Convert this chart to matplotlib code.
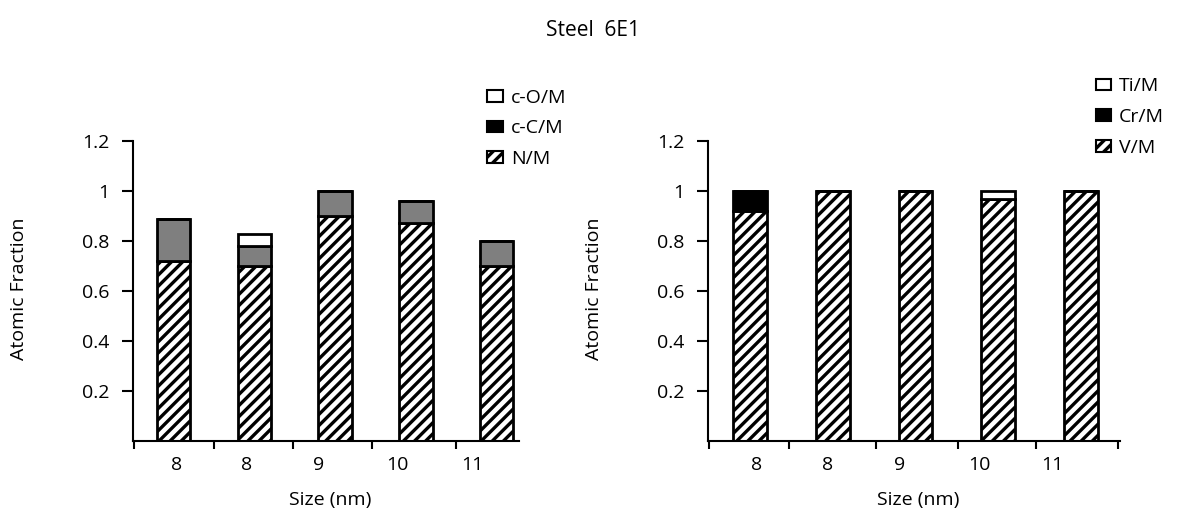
import matplotlib.pyplot as plt
from matplotlib.patches import Patch
import numpy as np

plt.rcParams['font.family'] = ['Open Sans', 'DejaVu Sans']
plt.rcParams['hatch.linewidth'] = 2.4

# Sizes (nm) for each particle
sizes = ['8', '8', '9', '10', '11']

# Left panel: N/M, c-C/M, c-O/M
n_m = [0.72, 0.70, 0.90, 0.875, 0.70]
cc_m = [0.17, 0.08, 0.10, 0.085, 0.10]
co_m = [0.0, 0.05, 0.0, 0.0, 0.0]

# Right panel: V/M, Cr/M, Ti/M
v_m = [0.92, 1.0, 1.0, 0.97, 1.0]
cr_m = [0.08, 0.0, 0.0, 0.0, 0.0]
ti_m = [0.0, 0.0, 0.0, 0.03, 0.0]

# where the size labels and separator ticks sit along each x axis
label_pos_left = [0.04, 0.9, 1.8, 2.77, 3.7]
sep_left = [-0.49, 0.5, 1.48, 2.46, 3.5]
label_pos_right = [0.08, 0.94, 1.81, 2.77, 3.65]
sep_right = [-0.5, 0.47, 1.52, 2.51, 3.46, 4.45]

fig = plt.figure(figsize=(11.86, 5.16), dpi=100)
fig.text(0.5, 0.94, 'Steel  6E1', ha='center', va='center', fontsize=15)

ax1 = fig.add_axes([0.112, 0.145, 0.326, 0.581])
ax2 = fig.add_axes([0.597, 0.145, 0.347, 0.581])

x = np.arange(len(sizes))
w = 0.41


def draw(ax, bottom_vals, mid_vals, top_vals, mid_color, seps, label_pos):
    b = np.array(bottom_vals)
    m = np.array(mid_vals)
    t = np.array(top_vals)
    ax.bar(x, b, w, color='white', edgecolor='black', hatch='///', linewidth=2)
    ax.bar(x, m, w, bottom=b, color=mid_color, edgecolor='black', linewidth=2)
    ax.bar(x, t, w, bottom=b + m, color='white', edgecolor='black', linewidth=2)

    ax.set_ylim(0, 1.2)
    ax.set_yticks([0.2, 0.4, 0.6, 0.8, 1.0, 1.2])
    ax.set_yticklabels(['0.2', '0.4', '0.6', '0.8', '1', '1.2'])
    ax.set_xticks(seps)
    ax.set_xticklabels([])
    ax.set_xticks(label_pos, minor=True)
    ax.set_xticklabels(sizes, minor=True)
    ax.tick_params(axis='x', which='minor', length=0, pad=11, labelsize=14)
    ax.tick_params(axis='x', which='major', length=6, width=1.5, direction='out')
    ax.tick_params(axis='y', length=8, width=1.5, direction='out', pad=9,
                   labelsize=14)
    for s in ['top', 'right']:
        ax.spines[s].set_visible(False)
    for s in ['left', 'bottom']:
        ax.spines[s].set_linewidth(1.5)
    ax.set_ylabel('Atomic Fraction', fontsize=14)
    ax.set_xlabel('Size (nm)', fontsize=14)


draw(ax1, n_m, cc_m, co_m, '#7f7f7f', sep_left, label_pos_left)
ax1.set_xlim(-0.5, 4.28)
ax1.yaxis.set_label_coords(-0.27, 0.51)
ax1.xaxis.set_label_coords(0.51, -0.165)

draw(ax2, v_m, cr_m, ti_m, 'black', sep_right, label_pos_right)
ax2.set_xlim(-0.51, 4.47)
ax2.yaxis.set_label_coords(-0.255, 0.51)
ax2.xaxis.set_label_coords(0.51, -0.165)

handles = [Patch(facecolor='white', edgecolor='black', linewidth=1.5),
           Patch(facecolor='black', edgecolor='black', linewidth=1.5),
           Patch(facecolor='white', edgecolor='black', hatch='///', linewidth=1.5)]
leg_kw = dict(loc='upper left', frameon=False, fontsize=14, handlelength=0.8,
              handleheight=0.55, handletextpad=0.4, labelspacing=0.65,
              borderpad=0, borderaxespad=0)
fig.legend(handles, ['c-O/M', 'c-C/M', 'N/M'],
           bbox_to_anchor=(0.411, 0.828), **leg_kw)
fig.legend(handles, ['Ti/M', 'Cr/M', 'V/M'],
           bbox_to_anchor=(0.924, 0.85), **leg_kw)

fig.savefig('out.png', dpi=100)
